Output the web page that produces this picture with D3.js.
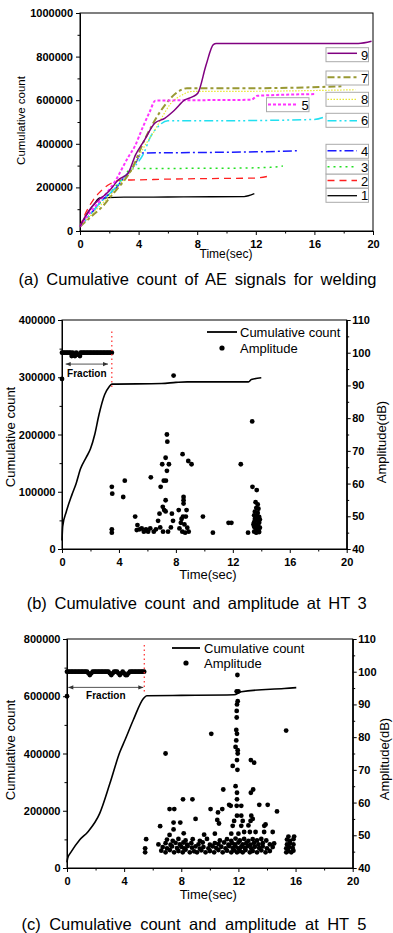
<!DOCTYPE html>
<html><head><meta charset="utf-8">
<script src="https://cdn.jsdelivr.net/npm/d3@7"></script>
<style>body{margin:0;background:#fff}svg{display:block}</style>
</head><body><svg id="chart" width="393" height="933"></svg>
<script>
// ---------------- DATA ----------------
// Panel (a): cumulative count (thousands) vs time (sec), nine welds
const timeA1=[0,0.1,0.5,1.0,1.35,1.6,1.9,3,6,9,11.2,11.9];
const countA1=[20,30,80,127,152,150,153,155,156,157,158,171];
const timeA2=[0,0.3,0.6,0.9,1.3,1.7,2.1,2.5,2.9,3.5,6,8,12,12.9];
const countA2=[20,70,110,142,175,200,218,230,234,234,238,240,243,252];
const timeA3=[0,0.5,1,1.5,2,2.5,3,3.5,6,10,13,13.85];
const countA3=[20,60,100,140,170,210,250,286,287,288,292,298];
const timeA4=[0,0.5,1,1.5,2,2.5,3,3.5,3.85,4.2,8,12,14.8];
const countA4=[20,60,100,140,170,200,245,280,318,358,360,363,368];
const timeA5=[0,0.5,1,1.5,2,2.5,2.82,3.3,3.73,4.3,4.76,5.14,8,11.7,12.1,16];
const countA5=[20,70,110,150,190,240,280,340,387,478,547,598,600,602,620,628];
const timeA6=[0,0.5,1,1.5,2,2.5,3,3.5,4.4,4.76,5.32,6,10,16,16.8];
const countA6=[20,60,100,140,170,205,245,280,364,425,478,506,506,512,526];
const timeA7=[0,0.5,1,1.5,2,2.5,3,3.5,4.4,5.55,6.9,7.3,12,17.9];
const countA7=[20,50,80,110,150,190,230,280,417,555,647,655,655,664];
const timeA8=[0,0.5,1,1.5,2,2.5,3,3.5,4,4.5,5,5.5,6.2,7,7.6,12,18.8];
const countA8=[20,55,90,125,160,195,235,275,340,400,450,510,585,625,640,641,648];
const timeA9=[0,0.3,0.8,1.3,1.7,2.2,2.6,3.28,3.8,4.4,5.1,5.78,6.46,7.15,7.7,8.05,8.6,9.1,9.3,19,19.9];
const countA9=[20,60,110,145,165,200,234,265,350,417,494,517,555,601,616,633,760,855,860,860,870];
const seriesNamesA=["1","2","3","4","5","6","7","8","9"];
const seriesColorsA=["#000000","#ff2020","#22e022","#1a1aff","#ff33ff","#22e0f0","#999933","#e8e830","#800080"];
const seriesDashA=[null,"7,5","2,4","9,3,2,3","3,2","9,3,2,3,2,3","7,3,3,3","1.5,1.5",null];
const seriesWidthA=[1.3,1.3,1.5,1.5,2,1.5,2,1.2,1.5];

const ticksA_x=[0,4,8,12,16,20], ticksA_xLabels=["0","4","8","12","16","20"], minorA_x=[2,6,10,14,18];
const ticksA_y=[0,200,400,600,800,1000], ticksA_yLabels=["0","200000","400000","600000","800000","1000000"], minorA_y=[100,300,500,700,900];

// Panel (b): HT 3
const timeB=[0,0.05,0.3,0.7,1.0,1.3,1.7,2.0,2.3,2.6,3.0,3.3,3.5,7.0,8.0,8.8,13.1,13.3,14.0];
const countB=[15,40,65,95,115,140,160,175,200,235,270,283,288,289,291,292,292,296,299];
const ampFracB=[[0,100],[0.1,100],[0.2,100],[0.3,100],[0.4,100],[0.5,100],[0.6,100],[0.68,99],[0.75,100],[0.8,99.2],[0.91,99],[1.0,100],[1.1,99.4],[1.26,99],[1.3,100],[1.4,100],[1.5,100],[1.6,100],[1.7,100],[1.8,100],[1.9,100],[2.0,100],[2.1,100],[2.2,100],[2.3,100],[2.4,100],[2.5,100],[2.6,100],[2.7,100],[2.8,100],[2.9,100],[3.0,100],[3.1,100],[3.2,100],[3.3,100],[3.4,100],[3.5,100]];
const ampB=[[0,92],[7.84,93],[13.36,79],[7.37,75],[7.4,72.8],[8.47,69],[7.28,67.9],[7.04,65.9],[7.51,65.9],[8.87,66.9],[9.1,65.9],[12.56,65.9],[7.37,63.9],[6.24,61.9],[4.41,60.9],[7.15,60.9],[7.3,60.9],[6.93,59],[3.5,59],[3.53,56.9],[4.3,55.9],[13.38,59],[13.68,58],[7.28,54.9],[8.54,55.9],[8.54,54.9],[8.54,53.9],[8.2,51.9],[8.75,51.9],[7.08,52.9],[7.18,51.9],[5.14,49.9],[8.5,49.9],[8.7,49.9],[9.9,49.9],[10.6,45],[11.7,48],[11.9,48],[13.07,45],[3.5,46],[3.5,45],
[7.28,51.5],[6.85,50.8],[7.72,50.8],[6.75,48.6],[7.8,48.6],[6.9,46.6],[7.65,46.6],[7.1,45.3],[7.45,45.3],[6.6,46],[6.45,45.3],
[5.3,47.3],[5.45,46],[5.6,46.3],[5.75,45.3],[5.9,46],[6.05,45.3],[6.2,46.3],[5.25,45.8],
[8.35,48],[8.6,47.5],[8.8,46.5],[8.45,45.3],[8.9,45.3],[8.25,46.3],[8.65,45],[8.4,49.2],
[13.6,54.3],[13.75,53.6],[13.65,52.6],[13.8,52.3],[13.55,51.4],[13.75,51],[13.5,50.3],[13.65,50],[13.85,49.8],[13.55,49.2],[13.75,48.8],[13.5,48.2],[13.85,48],[13.65,47.5],[13.5,46.8],[13.8,46.8],[13.6,46.3],[13.75,45.8],[13.5,45.3],[13.65,45],[13.85,45.2],[13.9,46.5],[13.9,49],[13.45,47.5]];
const fractionB=[3.5,380,283];      // time, top count(k), bottom count(k)
const fractionArrowB=[0.26,3.23,323,300]; // from, to, arrow count(k), label count(k)
const ticksB_y=[0,100,200,300,400], ticksB_yLabels=["0","100000","200000","300000","400000"], minorB_y=[50,150,250,350];

// Panel (c): HT 5
const timeC=[0,0.05,0.3,0.88,1.47,2.29,3.0,3.7,4.06,4.64,5.35,5.58,8,11.7,12.2,15.2,16.05];
const countC=[20,35,57,98,127,191,295,405,447,517,592,602,603,605,616,627,630];
const ampFracC=[[0,100],[0.1,100],[0.2,100],[0.3,100],[0.4,100],[0.5,100],[0.6,100],[0.7,100],[0.8,100],[0.9,100],[1.0,100],[1.1,100],[1.2,100],[1.3,100],[1.4,100],[1.5,99.5],[1.6,99],[1.7,99.5],[1.8,100],[1.9,100],[2.0,100],[2.1,100],[2.2,100],[2.3,100],[2.4,100],[2.5,100],[2.6,100],[2.7,100],[2.8,100],[2.9,100],[3.0,99.5],[3.1,99],[3.2,99.5],[3.3,100],[3.4,100],[3.5,100],[3.6,99.5],[3.7,99],[3.8,99.5],[3.9,100],[4.0,99.5],[4.1,99],[4.2,99],[4.3,99.5],[4.4,100],[4.5,100],[4.6,100],[4.7,100],[4.8,100],[4.9,100],[5.0,100],[5.1,100],[5.2,100],[5.3,100],[5.4,100]];
const ampC=[[0,92.5],
[6.9,75],[10.1,81],[15.34,82],[12.87,73],[13.1,72.2],[11.6,71.2],[11.93,70],[10.94,64],[12.87,63],[13.03,64],[8.12,61],[8.78,61],
[11.93,99],[11.88,94],[12.0,94],[11.95,91],[11.9,90],[11.88,88],[11.88,86],[11.85,82.2],[11.9,81],[11.85,79],[11.8,77],[11.95,76],[11.95,75],[11.9,73],[11.8,65],[11.9,63],[11.9,61],
[7.18,58],[7.51,58],[10.05,58],[10.57,57],[10.87,58],[11.35,59.3],[11.46,59],[11.88,59],[12.2,59],[13.46,59.3],[14.05,59.3],[14.7,57.3],[11.9,56],[12.2,56],[12.9,56],[9.0,55],[10.52,54.7],[11.7,54.4],[12.3,54.4],[12.85,54.4],[13.0,55],
[6.52,52.8],[7.46,53.9],[7.93,53.9],[7.46,51.8],[10.64,53.6],[11.6,52.9],[12.2,52.9],[12.7,53],[13.81,52.9],[13.9,53.3],[12.4,51],[12.8,51],[13.2,51],[13.8,51],[14.4,51],[8.17,50.6],[7.18,50.1],[9.6,50.2],[10.35,50.5],[11.5,50.5],[12.0,50.5],[15.5,49.6],[15.9,49.6],[5.54,48.8],
[5.47,44.8],[6.6,45.3],[6.9,44.8],[7.2,45.5],[7.5,44.8],[7.8,45.2],[8.1,44.8],[8.3,45.6],[8.6,44.8],[8.9,45.1],[9.1,44.8],[9.4,45.4],[9.7,44.8],[10.0,45.2],[10.3,44.8],[10.6,45.5],[10.9,44.8],[11.2,45.3],[11.5,44.8],[11.7,45.4],[11.9,44.8],[12.1,45.2],[12.3,44.8],[12.5,45.5],[12.8,44.8],[13.0,45.2],[13.3,44.8],[13.6,45.4],[13.9,44.8],[14.2,45.2],[15.35,44.8],[15.5,45.2],[15.7,44.8],[15.85,45.3],
[5.47,46],[6.7,46.4],[7.0,46],[7.35,46.6],[7.7,46.1],[8.0,46.5],[8.2,46],[8.45,46.7],[8.75,46.2],[9.0,46.6],[9.3,45.9],[9.55,46.4],[9.9,46],[10.2,46.6],[10.45,46.1],[10.8,46.5],[11.1,46],[11.35,46.7],[11.6,46.1],[11.8,46.6],[12.0,46],[12.2,46.5],[12.45,46.1],[12.65,46.7],[12.9,46],[13.15,46.5],[13.45,46.1],[13.7,46.6],[14.0,46],[14.4,46.4],[15.35,46],[15.55,46.4],[15.8,46.1],
[6.4,47.2],[6.9,47.6],[7.25,47.1],[7.6,47.7],[7.9,47.2],[8.15,47.8],[8.4,47.1],[8.7,47.6],[9.2,47.2],[9.5,47.8],[10.0,47.1],[10.35,47.6],[10.6,47.3],[11.0,47.8],[11.3,47.1],[11.55,47.6],[11.75,47.2],[12.0,47.8],[12.3,47.2],[12.55,47.6],[12.85,47.1],[13.1,47.7],[13.4,47.2],[13.7,47.6],[14.2,47.2],[14.5,47.5],[15.4,47.2],[15.6,47.6],[15.85,47.2],
[7.0,48.7],[7.4,48.3],[7.8,48.9],[8.3,48.4],[8.8,48.8],[9.3,48.3],[9.8,48.9],[10.7,48.4],[11.2,48.8],[11.5,48.3],[11.8,49],[12.1,48.4],[12.4,48.9],[12.7,48.3],[13.0,48.8],[13.3,48.4],[13.6,48.9],[13.95,48.4],[15.4,48.7],[15.6,48.3],[15.85,48.8]];
const fractionC=[5.41,779,611];
const fractionArrowC=[0.09,5.34,631,590];
const ticksC_y=[0,200,400,600,800], ticksC_yLabels=["0","200000","400000","600000","800000"], minorC_y=[100,300,500,700];

const ticksBC_x=[0,4,8,12,16,20], ticksBC_xLabels=["0","4","8","12","16","20"], minorBC_x=[2,6,10,14,18];
const ticksAmp=[40,50,60,70,80,90,100,110], ticksAmpLabels=["40","50","60","70","80","90","100","110"], minorAmp=[45,55,65,75,85,95,105];

const titles=["(a) Cumulative count of AE signals for welding","(b) Cumulative count and amplitude at HT 3","(c) Cumulative count and amplitude at HT 5"];
const legendLabels=["Cumulative count","Amplitude"];

// ---------------- DRAW ----------------
const FONT='"Liberation Sans", Arial, Helvetica, sans-serif';
const svg=d3.select('#chart');
svg.append('rect').attr('width',393).attr('height',933).attr('fill','#fff');

function axis(gen, scale, pos, majors, labels, minors, pad){
  const g=svg.append('g').attr('transform',pos);
  const a=g.append('g').call(gen(scale).tickValues(majors).tickSize(4).tickSizeOuter(0).tickPadding(pad).tickFormat((d,i)=>labels[i]));
  const m=g.append('g').call(gen(scale).tickValues(minors).tickSize(2.5).tickSizeOuter(0).tickFormat(''));
  [a,m].forEach(s=>{s.attr('font-family',FONT).attr('font-size',11);s.selectAll('line').attr('stroke','#000');s.select('.domain').attr('stroke','#000');});
  a.selectAll('text').attr('fill','#000').attr('font-weight','bold');
}
function text(x,y,str,size,anchor,rot,weight){
  const t=svg.append('text').attr('transform',`translate(${x},${y})`+(rot?` rotate(${rot})`:''))
    .attr('font-family',FONT).attr('font-size',size).attr('text-anchor',anchor||'start').attr('fill','#000').text(str);
  if(weight) t.attr('font-weight',weight);
  return t;
}
function title(cx,y,str,width){
  const t=text(cx,y,str,16.5,'middle');
  const n=str.split(' ').length-1;
  const len=t.node().getComputedTextLength();
  t.attr('word-spacing',((width-len)/n).toFixed(2));
}

// ===== Panel (a) =====
const xA=d3.scaleLinear([0,20],[80,373]);
const yA=d3.scaleLinear([0,1000],[231,13]);
axis(d3.axisBottom,xA,'translate(0,231)',ticksA_x,ticksA_xLabels,minorA_x,5);
axis(d3.axisLeft,yA,'translate(80,0)',ticksA_y,ticksA_yLabels,minorA_y,3);
svg.append('rect').attr('x',80).attr('y',13).attr('width',293).attr('height',218).attr('fill','none').attr('stroke','#000');
const timesA=[timeA1,timeA2,timeA3,timeA4,timeA5,timeA6,timeA7,timeA8,timeA9];
const countsA=[countA1,countA2,countA3,countA4,countA5,countA6,countA7,countA8,countA9];
const lineA=d3.line().x(d=>xA(d[0])).y(d=>yA(d[1])).curve(d3.curveMonotoneX);
const drawOrder=[0,1,2,3,5,7,6,4,8];
drawOrder.forEach(i=>{
  svg.append('path').datum(d3.zip(timesA[i],countsA[i])).attr('d',lineA).attr('fill','none')
    .attr('stroke',seriesColorsA[i]).attr('stroke-width',seriesWidthA[i]).attr('stroke-dasharray',seriesDashA[i]);
});
// legend boxes
const legRowsA={"9":[47.7,53.3],"7":[71,77.3],"8":[92.3,99.3],"6":[113.3,120.7],"4":[144.3,150.7],"3":[160,166.7],"2":[174,180.5],"1":[188.3,195.7]};
seriesNamesA.forEach((nm,i)=>{
  let bx=326,bw=42.5,bh=14,lx1=327.5,lx2=357,tx=364.5,by,ly;
  if(nm==="5"){bx=266.5;bw=42.5;by=97.7;ly=104.5;lx1=268;lx2=297;tx=305;}
  else {by=legRowsA[nm][0];ly=legRowsA[nm][1];}
  svg.append('rect').attr('x',bx).attr('y',by).attr('width',bw).attr('height',bh).attr('fill','#fff').attr('stroke','#aaa').attr('stroke-width',1);
  svg.append('line').attr('x1',lx1).attr('x2',lx2).attr('y1',ly).attr('y2',ly).attr('stroke',seriesColorsA[i])
    .attr('stroke-width',seriesWidthA[i]).attr('stroke-dasharray',seriesDashA[i]);
  text(tx,by+bh-2,nm,13,'middle');
});
text(25,120.5,'Cumulative count',11.5,'middle',-90);
text(226,258,'Time(sec)',12,'middle');
title(197.5,285,titles[0],358);

// ===== Panel (b)/(c) generic =====
function panel(o){
  const x=d3.scaleLinear([0,20],[o.x0,o.x1]);
  const y=d3.scaleLinear([0,o.ymax],[o.y0,o.y1]);
  const y2=d3.scaleLinear([40,110],[o.y0,o.y1]);
  axis(d3.axisBottom,x,`translate(0,${o.y0})`,ticksBC_x,ticksBC_xLabels,minorBC_x,5);
  axis(d3.axisLeft,y,`translate(${o.x0},0)`,o.ticks,o.tickLabels,o.minor,2.5);
  axis(d3.axisRight,y2,`translate(${o.x1},0)`,ticksAmp,ticksAmpLabels,minorAmp,1.5);
  svg.append('rect').attr('x',o.x0).attr('y',o.y1).attr('width',o.x1-o.x0).attr('height',o.y0-o.y1).attr('fill','none').attr('stroke','#000');
  svg.append('path').datum(d3.zip(o.time,o.count)).attr('d',d3.line().x(d=>x(d[0])).y(d=>y(d[1])).curve(d3.curveMonotoneX))
    .attr('fill','none').attr('stroke','#000').attr('stroke-width',1.6);
  svg.append('g').selectAll('circle').data(o.frac.concat(o.amp)).join('circle')
    .attr('cx',d=>x(d[0])).attr('cy',d=>y2(d[1])).attr('r',2.4).attr('fill','#000');
  svg.append('line').attr('x1',x(o.fl[0])).attr('x2',x(o.fl[0])).attr('y1',y(o.fl[1])).attr('y2',y(o.fl[2]))
    .attr('stroke','#ff2a2a').attr('stroke-width',1.2).attr('stroke-dasharray','1.5,3');
  const ay=y(o.fa[2]);
  const xa=x(o.fa[0]), xb=x(o.fa[1]);
  svg.append('line').attr('x1',xa).attr('x2',xb).attr('y1',ay).attr('y2',ay).attr('stroke','#555').attr('stroke-width',1);
  svg.append('path').attr('d',`M${xa},${ay}l5,-2.2v4.4z`).attr('fill','#333');
  svg.append('path').attr('d',`M${xb},${ay}l-5,-2.2v4.4z`).attr('fill','#333');
  text((xa+xb)/2,y(o.fa[3]),'Fraction',10,'middle',0,'bold');
  svg.append('line').attr('x1',o.lg[0]).attr('x2',o.lg[1]).attr('y1',o.lg[2]).attr('y2',o.lg[2]).attr('stroke','#000').attr('stroke-width',1.8);
  text(o.lg[3],o.lg[2]+4.7,legendLabels[0],13);
  svg.append('circle').attr('cx',(o.lg[0]+o.lg[1])/2).attr('cy',o.lg[4]).attr('r',2.6).attr('fill','#000');
  text(o.lg[3],o.lg[4]+4.5,legendLabels[1],13);
  text(15,o.lcy,'Cumulative count',13,'middle',-90);
  text(o.rx,o.rcy,'Amplitude(dB)',13,'middle',-90);
  text(o.tcx,o.ty,'Time(sec)',13,'middle');
}
panel({x0:62,x1:346.7,y0:549,y1:320,ymax:400,ticks:ticksB_y,tickLabels:ticksB_yLabels,minor:minorB_y,
  time:timeB,count:countB,frac:ampFracB,amp:ampB,fl:fractionB,fa:fractionArrowB,
  lg:[207,237,332,240,348],lcy:437,rx:386,rcy:442,tcx:208,ty:579});
title(196.7,609,titles[1],340);
panel({x0:67,x1:352.7,y0:868,y1:639,ymax:800,ticks:ticksC_y,tickLabels:ticksC_yLabels,minor:minorC_y,
  time:timeC,count:countC,frac:ampFracC,amp:ampC,fl:fractionC,fa:fractionArrowC,
  lg:[172,200,648,204,663],lcy:750,rx:389,rcy:759,tcx:208.3,ty:899});
title(194,930,titles[2],345);
</script></body></html>
